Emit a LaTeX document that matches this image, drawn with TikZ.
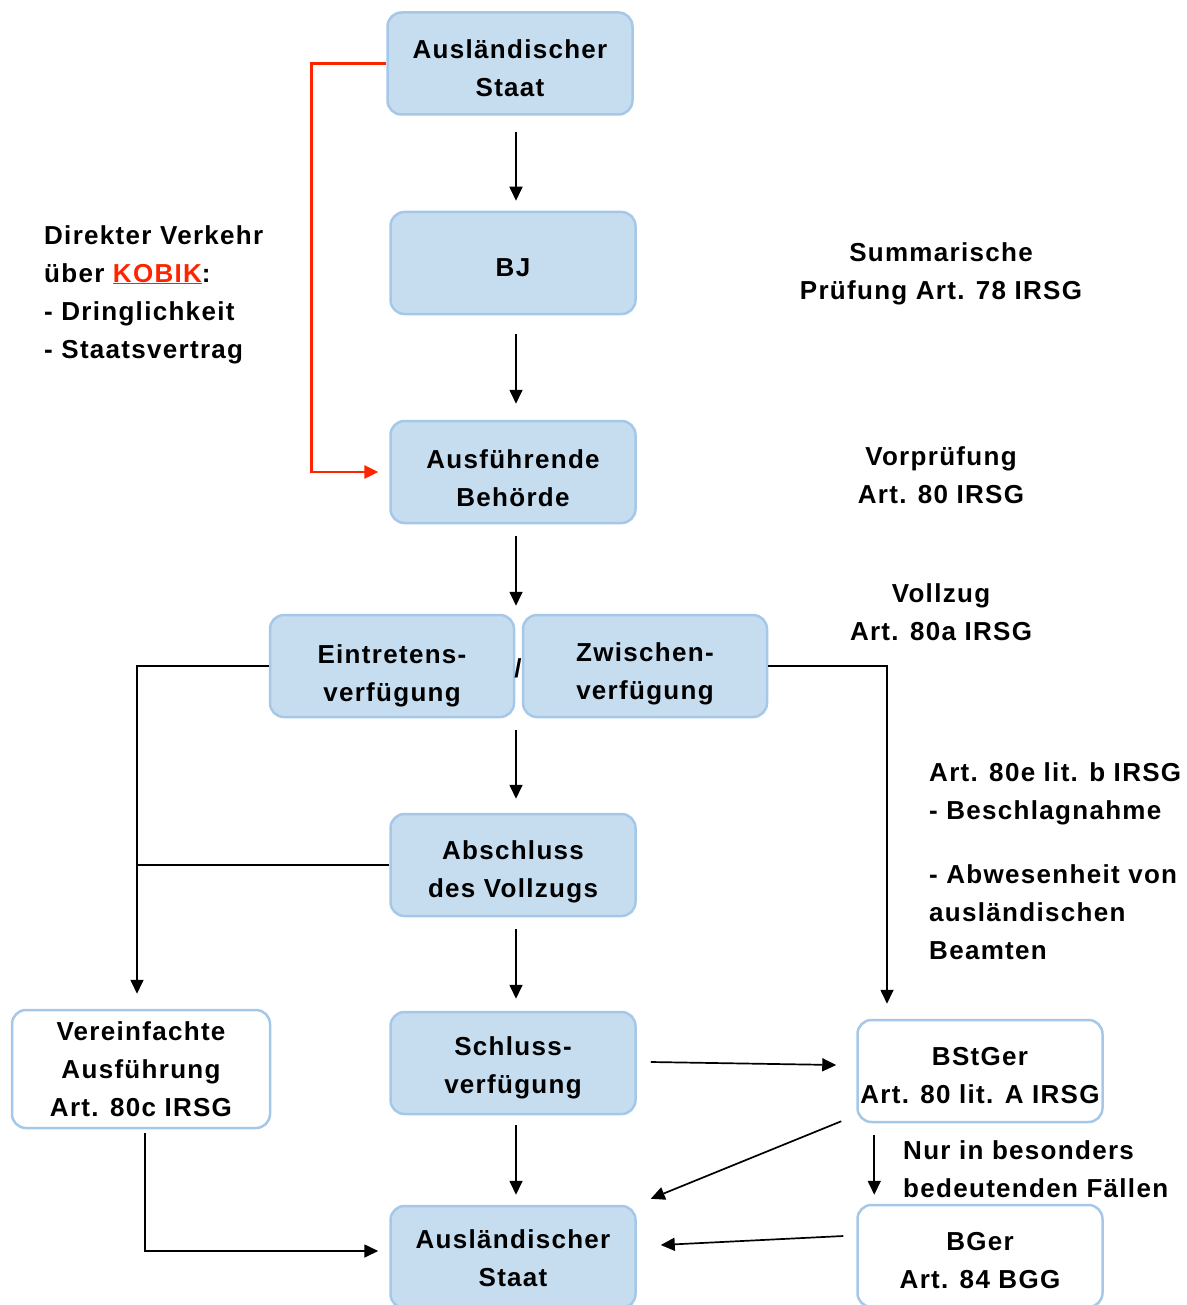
\documentclass[tikz,border=0pt]{standalone}
\usepackage{fontspec}
\setmainfont{Liberation Sans}[LetterSpace=5]
\usetikzlibrary{arrows.meta,calc}
\definecolor{boxfill}{RGB}{198,221,240}
\definecolor{boxline}{RGB}{165,200,232}
\definecolor{kred}{RGB}{255,36,0}
\newcommand{\tup}[1]{\rule{0pt}{#1}}
\begin{document}
\begin{tikzpicture}[x=1pt,y=-1pt,
  every node/.style={font=\fontsize{26}{38}\selectfont\bfseries},
  bluebox/.style={draw=boxline, fill=boxfill, line width=2.5pt, rounded corners=14pt, minimum width=245pt, minimum height=102pt, align=center, inner sep=2pt},
  whitebox/.style={bluebox, fill=white},
  conn/.style={line width=1.7pt},
  arr/.style={conn, -{Triangle[length=14pt,width=13pt]}},
  redarr/.style={draw=kred, line width=2.6pt, -{Triangle[length=14pt,width=13pt]}},
  note/.style={inner sep=0pt, align=left}]
\useasboundingbox (0,0) rectangle (1186,1305);

% boxes
\node[bluebox] (a1) at (510,63.5) {\tup{29pt}Ausländischer\\Staat};
\node[bluebox] (bj) at (513,263) {\tup{27pt}BJ};
\node[bluebox] (ausf) at (513,472) {\tup{31pt}Ausführende\\Behörde};
\node[bluebox, minimum width=244pt] (eint) at (392,666) {\tup{39pt}Eintretens-\\verfügung};
\node[bluebox, minimum width=244pt] (zw) at (645,666) {\tup{35pt}Zwischen-\\verfügung};
\node[inner sep=0pt] (slash) at (518,668) {/};
\node[bluebox] (absch) at (513,865) {\tup{33pt}Abschluss\\des Vollzugs};
\node[bluebox] (schl) at (513,1063) {\tup{29pt}Schluss-\\verfügung};
\node[bluebox] (ausl2) at (513,1257) {\tup{21pt}Ausländischer\\Staat};
\node[whitebox, minimum width=258pt, minimum height=118pt] (vere) at (141,1069) {Vereinfachte\\Ausführung\\Art. 80c IRSG};
\node[whitebox] (bst) at (980,1071) {\tup{27pt}BStGer\\Art. 80 lit. A IRSG};
\node[whitebox] (bger) at (980,1256) {\tup{27pt}BGer\\Art. 84 BGG};

% free texts
\node[note, anchor=north west] (dv) at (44,225) {Direkter Verkehr\\über {\color{kred}\underline{KOBIK}}:\\- Dringlichkeit\\- Staatsvertrag};
\node[note, align=center, anchor=north] (sp) at (941,242) {Summarische\\Prüfung Art. 78 IRSG};
\node[note, align=center, anchor=north] (vp) at (941,446) {Vorprüfung\\Art. 80 IRSG};
\node[note, align=center, anchor=north] (vz) at (941,583) {Vollzug\\Art. 80a IRSG};
\node[note, anchor=north west] (a80e) at (929,762) {Art. 80e lit. b IRSG\\- Beschlagnahme};
\node[note, anchor=north west] (abw) at (929,864) {- Abwesenheit von\\ausländischen\\Beamten};
\node[note, anchor=north west] (nur) at (903,1140) {Nur in besonders\\bedeutenden Fällen};

% helper coordinates
\coordinate (gt) at ($(eint.north east)!0.5!(zw.north west)$);
\coordinate (gb) at ($(eint.south east)!0.5!(zw.south west)$);
\coordinate (lx) at (137,666);

% vertical main flow
\draw[arr, shorten <=16pt, shorten >=10pt] ([xshift=3pt]a1.south -| bj.north) -- ([xshift=3pt]bj.north);
\draw[arr, shorten <=19pt, shorten >=16pt] ([xshift=3pt]bj.south) -- ([xshift=3pt]ausf.north);
\draw[arr, shorten <=12pt, shorten >=8pt] ([xshift=3pt]ausf.south) -- ([xshift=3pt]ausf.south |- gt);
\draw[arr, shorten <=12pt, shorten >=14pt] ([xshift=3pt]absch.north |- gb) -- ([xshift=3pt]absch.north);
\draw[arr, shorten <=12pt, shorten >=12pt] ([xshift=3pt]absch.south) -- ([xshift=3pt]schl.north);
\draw[arr, shorten <=10pt, shorten >=10pt] ([xshift=3pt]schl.south) -- ([xshift=3pt]ausl2.north);

% red direct connection
\draw[redarr] (a1.west) -| ([xshift=-78pt]ausf.west) -- ([xshift=-11pt]ausf.west);

% left branch
\draw[arr] (eint.west) -| ([xshift=-4pt,yshift=15pt]vere.north);
\draw[conn] (absch.west) -- (absch.west -| lx);

% right branch
\draw[arr] (zw.east) -| ([xshift=-93pt,yshift=15pt]bst.north);

% bottom connectors
\draw[arr] ([xshift=14pt,yshift=1pt]schl.east) -- ([xshift=-20pt,yshift=6pt]bst.west);
\draw[arr] ([xshift=-15pt,yshift=2pt]bst.south west) -- ([xshift=14pt,yshift=6pt]ausl2.north east);
\draw[arr] ([xshift=18pt,yshift=-12pt]bst.south west) -- ([xshift=18pt,yshift=9pt]bger.north west);
\draw[arr] ([xshift=-13pt,yshift=20pt]bger.west) -- ([xshift=24pt,yshift=12pt]ausl2.east);
\draw[arr] ([xshift=4pt,yshift=-4pt]vere.south) |- ([xshift=-11pt,yshift=6pt]ausl2.west);
\end{tikzpicture}
\end{document}
